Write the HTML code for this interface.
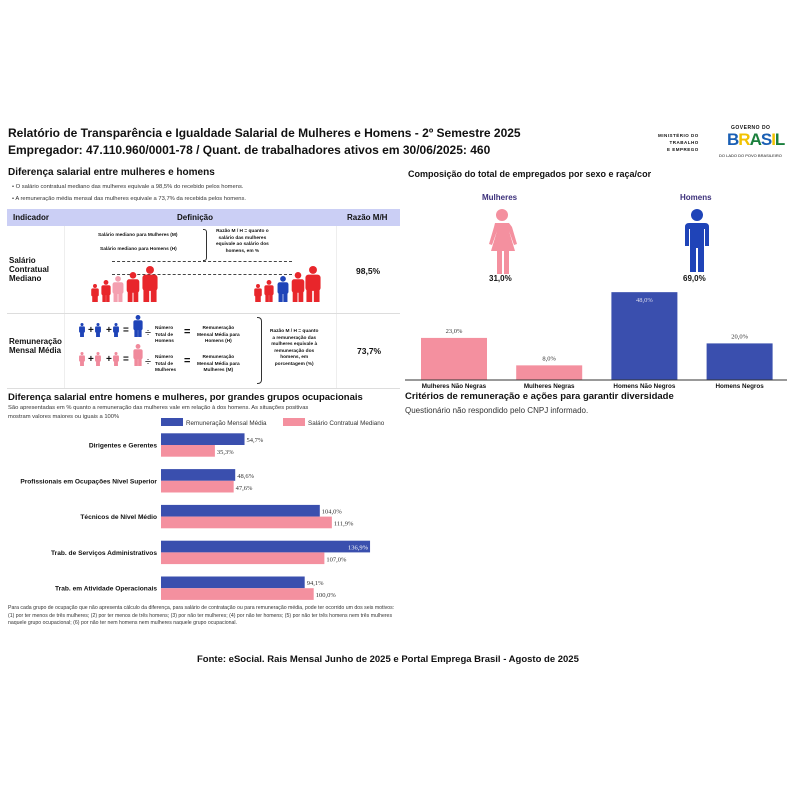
<!DOCTYPE html>
<html><head><meta charset="utf-8"><style>
body{margin:0;background:#fff;font-family:"Liberation Sans",sans-serif;}
#root{position:relative;width:800px;height:800px;overflow:hidden;}
.t{position:absolute;white-space:nowrap;color:#111;}
.b{font-weight:bold;}
</style></head><body>
<div id="root">
<div class="t b" style="left:8px;top:126px;font-size:12px">Relatório de Transparência e Igualdade Salarial de Mulheres e Homens - 2º Semestre 2025</div>
<div class="t b" style="left:8px;top:143px;font-size:12px">Empregador: 47.110.960/0001-78 / Quant. de trabalhadores ativos em 30/06/2025: 460</div>

<div style="position:absolute;left:655px;top:124px;width:140px;height:40px">
 <div class="t b" style="left:3px;top:8px;font-size:4.5px;letter-spacing:.5px;text-align:right;line-height:7px">MINISTÉRIO DO<br>TRABALHO<br>E EMPREGO</div>
 <div class="t b" style="left:76px;top:1px;font-size:5px;letter-spacing:.5px">GOVERNO DO</div>
 <div class="t b" style="left:72px;top:7px;font-size:17px;letter-spacing:-1px;color:#1a7f3c;line-height:18px"><span style="color:#1a5fb4">B</span><span style="color:#f2c200">R</span><span style="color:#1a7f3c">A</span><span style="color:#1a5fb4">S</span><span style="color:#f2c200">I</span><span style="color:#1a7f3c">L</span></div>
 <div class="t" style="left:64px;top:29px;font-size:4px">DO LADO DO POVO BRASILEIRO</div>
</div>

<div class="t b" style="left:8px;top:167px;font-size:10px">Diferença salarial entre mulheres e homens</div>
<div class="t" style="left:12px;top:184px;font-size:5.8px;color:#333">• O salário contratual mediano das mulheres equivale a 98,5% do recebido pelos homens.</div>
<div class="t" style="left:12px;top:196px;font-size:5.8px;color:#333">• A remuneração média mensal das mulheres equivale a 73,7% da recebida pelos homens.</div>

<div style="position:absolute;left:7px;top:209px;width:393px;height:179px;border-bottom:1px solid #ddd">
 <div style="position:absolute;left:0;top:0;width:393px;height:17px;background:#cbcff5"></div>
 <div class="t b" style="left:6px;top:4px;font-size:8px">Indicador</div>
 <div class="t b" style="left:170px;top:4px;font-size:8px">Definição</div>
 <div class="t b" style="left:340px;top:4px;font-size:8px">Razão M/H</div>
 <div style="position:absolute;left:57px;top:17px;width:1px;height:162px;background:#eee"></div>
 <div style="position:absolute;left:329px;top:17px;width:1px;height:162px;background:#eee"></div>
 <div style="position:absolute;left:0;top:104px;width:393px;height:1px;background:#ddd"></div>
 <div class="t b" style="left:2px;top:47px;font-size:8px;line-height:9px">Salário<br>Contratual<br>Mediano</div>
 <div class="t b" style="left:2px;top:128px;font-size:8px;line-height:9px">Remuneração<br>Mensal Média</div>
 <div class="t b" style="left:349px;top:57px;font-size:8.5px">98,5%</div>
 <div class="t b" style="left:350px;top:137px;font-size:8.5px">73,7%</div>
 <div class="t b" style="left:91px;top:24px;font-size:4.8px">Salário mediano para Mulheres (M)</div>
 <div class="t b" style="left:93px;top:38px;font-size:4.8px">Salário mediano para Homens (H)</div>
 <div style="position:absolute;left:196px;top:20px;width:3px;height:30px;border:1px solid #333;border-left:none;border-radius:0 3px 3px 0"></div>
 <div class="t b" style="left:209px;top:20px;font-size:4.8px;line-height:6.5px;text-align:center">Razão M / H = quanto o<br>salário das mulheres<br>equivale ao salário dos<br>homens, em %</div>
 <div style="position:absolute;left:105px;top:52px;width:180px;height:12px;border-top:1px dashed #444;border-bottom:1px dashed #444"></div>
 <div class="t b" style="left:148px;top:117px;font-size:4.8px;line-height:6.5px">Número<br>Total de<br>Homens</div>
 <div class="t b" style="left:148px;top:146px;font-size:4.8px;line-height:6.5px">Número<br>Total de<br>Mulheres</div>
 <div class="t b" style="left:190px;top:117px;font-size:4.8px;line-height:6.5px;text-align:center">Remuneração<br>Mensal Média para<br>Homens (H)</div>
 <div class="t b" style="left:190px;top:146px;font-size:4.8px;line-height:6.5px;text-align:center">Remuneração<br>Mensal Média para<br>Mulheres (M)</div>
 <div class="t" style="left:138px;top:118px;font-size:11px">÷</div><div class="t" style="left:138px;top:147px;font-size:11px">÷</div>
 <div class="t b" style="left:177px;top:117px;font-size:11px">=</div><div class="t b" style="left:177px;top:146px;font-size:11px">=</div>
 <div style="position:absolute;left:250px;top:108px;width:4px;height:65px;border:1px solid #333;border-left:none;border-radius:0 4px 4px 0"></div>
 <div class="t b" style="left:263px;top:120px;font-size:4.8px;line-height:6.5px;text-align:center">Razão M / H = quanto<br>a remuneração das<br>mulheres equivale à<br>remuneração dos<br>homens, em<br>porcentagem (%)</div>
 <svg id="people" width="393" height="179" style="position:absolute;left:0;top:0"></svg>
</div>

<div class="t b" style="left:8px;top:392px;font-size:9.5px">Diferença salarial entre homens e mulheres, por grandes grupos ocupacionais</div>
<div class="t" style="left:8px;top:404px;font-size:5.8px;line-height:8.5px;color:#333">São apresentadas em % quanto a remuneração das mulheres vale em relação à dos homens. As situações positivas<br>mostram valores maiores ou iguais a 100%</div>
<svg id="occ" width="400" height="200" style="position:absolute;left:0;top:415px"></svg>
<div class="t" style="left:8px;top:605px;font-size:5.2px;line-height:7.7px;color:#333;white-space:normal;width:392px">Para cada grupo de ocupação que não apresenta cálculo da diferença, para salário de contratação ou para remuneração média, pode ter ocorrido um dos seis motivos:(1) por ter menos de três mulheres; (2) por ter menos de três homens; (3) por não ter mulheres; (4) por não ter homens; (5) por não ter três homens nem três mulheres naquele grupo ocupacional; (6) por não ter nem homens nem mulheres naquele grupo ocupacional.</div>

<div class="t b" style="left:408px;top:169px;font-size:9px">Composição do total de empregados por sexo e raça/cor</div>
<div class="t b" style="left:482px;top:193px;font-size:8px;color:#3b2f7a">Mulheres</div>
<div class="t b" style="left:680px;top:193px;font-size:8px;color:#3b2f7a">Homens</div>
<div class="t b" style="left:489px;top:274px;font-size:8px">31,0%</div>
<div class="t b" style="left:683px;top:274px;font-size:8px">69,0%</div>
<svg width="800" height="800" style="position:absolute;left:0;top:0">
 <g fill="#f4909f"><circle cx="502" cy="215" r="6"/><path d="M495 223h14l3 4 5 17-3 1-5-14 6 20h-6v23h-5v-23h-2v23h-5v-23h-6l6-20-5 14-3-1 5-17z"/></g>
 <g fill="#1f44b8"><circle cx="697" cy="215" r="6"/><path d="M689 223h16q4 0 4 4v19h-4v-17h-1v43h-6v-24h-2v24h-6v-43h-1v17h-4v-19q0-4 4-4z"/></g>
</svg>
<svg id="comp" width="800" height="800" style="position:absolute;left:0;top:0"></svg>
<div class="t b" style="left:405px;top:391px;font-size:9.5px">Critérios de remuneração e ações para garantir diversidade</div>
<div class="t" style="left:405px;top:406px;font-size:8px;color:#333">Questionário não respondido pelo CNPJ informado.</div>

<div class="t b" style="left:197px;top:654px;font-size:9.5px">Fonte: eSocial. Rais Mensal Junho de 2025 e Portal Emprega Brasil - Agosto de 2025</div>
</div>
<script>
const NS='http://www.w3.org/2000/svg';
function mk(p,t,a){const e=document.createElementNS(NS,t);for(const k in a)e.setAttribute(k,a[k]);p.appendChild(e);return e;}
// occupation chart data
const occCategories=['Dirigentes e Gerentes','Profissionais em Ocupações Nível Superior','Técnicos de Nível Médio','Trab. de Serviços Administrativos','Trab. em Atividade Operacionais'];
const remValues=[54.7,48.6,104.0,136.9,94.1];
const salValues=[35.3,47.6,111.9,107.0,100.0];
const occSeries=['Remuneração Mensal Média','Salário Contratual Mediano'];
// composition chart data
const compCategories=['Mulheres Não Negras','Mulheres Negras','Homens Não Negros','Homens Negros'];
const compValues=[23.0,8.0,48.0,20.0];
const BLUE='#3a4fae',PINK='#f4909f';
const fmt=v=>v.toFixed(1).replace('.',',')+'%';
(function(){
 const s=document.getElementById('occ');
 const x0=161,xs=v=>x0+v*1.527;
 const yc=i=>30+i*35.8;const bh=11.7;
 let r=mk(s,'rect',{x:161,y:3,width:22,height:8,fill:BLUE});
 
 let t=mk(s,'text',{x:186,y:10,'font-size':6.3,fill:'#333'});t.textContent=occSeries[0];
 
 r=mk(s,'rect',{x:283,y:3,width:22,height:8,fill:PINK});
 
 t=mk(s,'text',{x:308,y:10,'font-size':6.3,fill:'#333'});t.textContent=occSeries[1];
 
 occCategories.forEach((c,i)=>{
  const y=yc(i);
  let l=mk(s,'text',{x:157,y:y+2.5,'font-size':6.6,'font-weight':'bold','text-anchor':'end',fill:'#111'});l.textContent=c;
  
  let b=mk(s,'rect',{x:x0,y:y-bh,width:xs(remValues[i])-x0,height:bh,fill:BLUE});
  
  b=mk(s,'rect',{x:x0,y:y,width:xs(salValues[i])-x0,height:bh,fill:PINK});
  
  const inside=remValues[i]>130;
  let v=mk(s,'text',{x:inside?xs(remValues[i])-2:xs(remValues[i])+2,y:y-3,'font-size':6.5,'font-family':'Liberation Serif',fill:inside?'#fff':'#333','text-anchor':inside?'end':'start'});v.textContent=fmt(remValues[i]);
  
  v=mk(s,'text',{x:xs(salValues[i])+2,y:y+9,'font-size':6.5,'font-family':'Liberation Serif',fill:'#333'});v.textContent=fmt(salValues[i]);
  
 });
})();
(function(){
 const s=document.getElementById('comp');
 const base=380,ys=v=>base-v*1.83;
 const xc=i=>454+i*95.2;
 compCategories.forEach((c,i)=>{
  const col=i<2?PINK:BLUE;
  let b=mk(s,'rect',{x:xc(i)-33,y:ys(compValues[i]),width:66,height:base-ys(compValues[i]),fill:col});
  
  const inside=compValues[i]>40;
  let v=mk(s,'text',{x:xc(i),y:inside?ys(compValues[i])+10:ys(compValues[i])-5,'font-size':6.5,'font-family':'Liberation Serif','text-anchor':'middle',fill:inside?'#dde':'#333'});v.textContent=fmt(compValues[i]);
  
  let l=mk(s,'text',{x:xc(i),y:base+8,'font-size':6.3,'font-weight':'bold','text-anchor':'middle',fill:'#111'});l.textContent=c;
  
 });
 const ax=mk(s,'line',{x1:405,y1:base,x2:787,y2:base,stroke:'#333','stroke-width':1});
 
})();
(function(){
 const s=document.getElementById('people');
 function person(x,yb,h,col){const g=mk(s,'g',{fill:col});const w=h*0.42;
  mk(g,'circle',{cx:x,cy:yb-h+h*0.11,r:h*0.11});
  mk(g,'rect',{x:x-w/2,y:yb-h*0.76,width:w,height:h*0.45,rx:w*0.2});
  mk(g,'rect',{x:x-w/2+1,y:yb-h*0.35,width:w*0.38,height:h*0.35});
  mk(g,'rect',{x:x+w/2-1-w*0.38,y:yb-h*0.35,width:w*0.38,height:h*0.35});
  }
 const R='#e8262b',P='#f4a0b0',B='#1f44b8',PK='#f08a9c';
 [[88,18,R],[99,22,R],[111,26,P],[126,30,R],[143,36,R]].forEach(a=>person(a[0],93,a[1],a[2]));
 [[251,18,R],[262,22,R],[276,26,B],[291,30,R],[306,36,R]].forEach(a=>person(a[0],93,a[1],a[2]));
 [[75,14,B],[91,14,B],[109,14,B],[131,22,B]].forEach(a=>person(a[0],128,a[1],a[2]));
 [[75,14,PK],[91,14,PK],[109,14,PK],[131,22,PK]].forEach(a=>person(a[0],157,a[1],a[2]));
 [[82,124],[100,124],[117,124],[82,153],[100,153],[117,153]].forEach(p=>{const t=mk(s,'text',{x:p[0]-1,y:p[1],'font-size':10,'font-weight':'bold',fill:'#111'});t.textContent=p[0]==117?'=':'+';});
})();
</script>
</body></html>
